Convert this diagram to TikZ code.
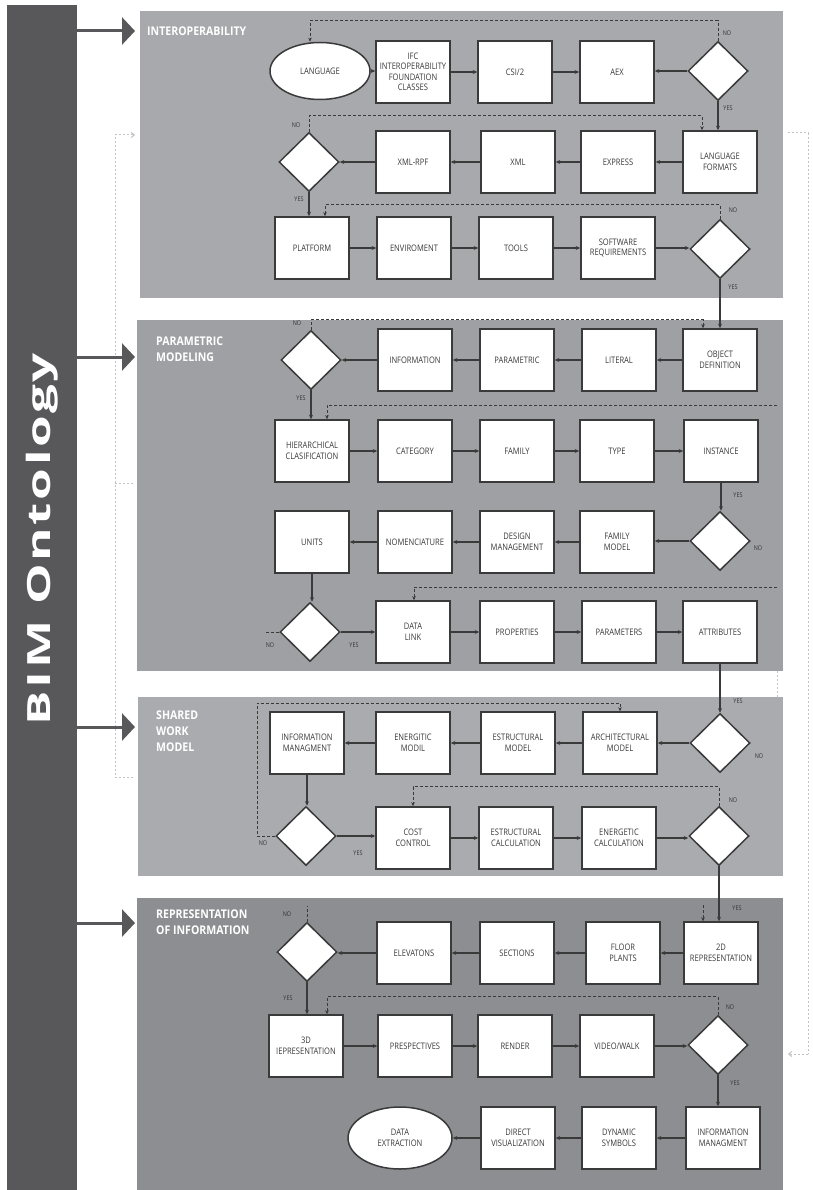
\documentclass[tikz,border=0pt]{standalone}
\usepackage{fontspec}
\setmainfont{Open Sans}
\newfontfamily\boxfont{Open Sans}[FakeStretch=0.84]
\newfontfamily\headfont{Open Sans}[FakeStretch=0.88]
\newfontfamily\barfont{Open Sans}[FakeStretch=1.6, LetterSpace=8]
\usetikzlibrary{shapes.geometric,arrows.meta,calc}

\definecolor{barcol}{HTML}{58585A}
\definecolor{panelA}{HTML}{A7A9AC}
\definecolor{panelB}{HTML}{9EA0A3}
\definecolor{panelC}{HTML}{A9ABAE}
\definecolor{panelD}{HTML}{8D8E91}
\definecolor{ink}{HTML}{3A3A3A}
\definecolor{guide}{HTML}{C2C2C2}
\definecolor{tagcol}{HTML}{333333}

\tikzset{
  stepbox/.style={draw=ink, line width=1.5pt, fill=white, rectangle,
    minimum width=74pt, minimum height=62pt, inner sep=1pt, align=center,
    font=\boxfont\fontsize{9}{10.5}\selectfont, text=ink},
  term/.style={stepbox, ellipse, minimum width=100pt, minimum height=57pt},
  choice/.style={draw=ink, line width=1.5pt, fill=white, diamond,
    minimum width=60pt, minimum height=59pt, inner sep=0pt},
  flow/.style={draw=ink, line width=1.3pt, -{Stealth[length=4.5pt,width=4pt]}},
  backline/.style={draw=ink, line width=0.9pt, dash pattern=on 3pt off 2pt},
  back/.style={backline, -{Stealth[length=4pt,width=3.5pt]}},
  tag/.style={font=\boxfont\fontsize{6.5}{7}\selectfont, text=tagcol, inner sep=0pt},
  panel/.style={fill=#1, draw=none, rectangle, anchor=north west, inner sep=0pt},
  head/.style={font=\headfont\bfseries\fontsize{12}{16}\selectfont, text=white,
    align=left, anchor=north west, inner sep=0pt},
  bigarrow/.style={draw=barcol, line width=3pt, -{Triangle[length=13pt,width=27pt]}},
  guideline/.style={draw=guide, line width=1pt, dash pattern=on 2pt off 2pt},
}

\begin{document}
\begin{tikzpicture}[x=1pt, y=-1pt]
% page
\fill[white] (0,0) rectangle (812,1190);
\useasboundingbox (0,0) rectangle (812,1190);

% side bar with the title
\node[fill=barcol, anchor=north west, minimum width=70pt, minimum height=1185pt, inner sep=0pt] (bar) at (7,5) {};
\node[rotate=90, anchor=base, inner sep=0pt, font=\barfont\bfseries\fontsize{32}{32}\selectfont, text=white] (bim) at (50,539) {BIM Ontology};

% guide lines outside the panels
\coordinate (gA) at (133,777);
\coordinate (gB) at (115,777);
\coordinate (gC) at (115,135);
\coordinate (gD) at (135,135);
\coordinate (gE) at (115,483);
\coordinate (gF) at (133,483);
\draw[guideline] (gA) -- (gB) -- (gC);
\draw[guideline, -{Straight Barb[length=3pt,width=5pt]}] (gC) -- (gD);
\draw[guideline] (gE) -- (gF);
\coordinate (gG) at (788,133);
\coordinate (gH) at (808,133);
\coordinate (gI) at (808,1054);
\coordinate (gJ) at (788,1054);
\draw[guideline] (gG) -- (gH) -- (gI);
\draw[guideline, -{Straight Barb[length=3pt,width=5pt]}] (gI) -- (gJ);

% panels
\node[panel=panelA, minimum width=643pt, minimum height=287pt] (p1) at (140,11) {};
\node[panel=panelB, minimum width=646pt, minimum height=351pt] (p2) at (137,320) {};
\node[panel=panelC, minimum width=645pt, minimum height=179pt] (p3) at (138,697) {};
\node[panel=panelD, minimum width=646pt, minimum height=292pt] (p4) at (137,898) {};

\coordinate (gK) at (777,671);
\coordinate (gL) at (777,697);
\draw[guideline] (gK) -- (gL);

% arrows from the side bar
\coordinate (tipA) at (135,31);
\coordinate (tipB) at (135,357);
\coordinate (tipC) at (135,727);
\coordinate (tipD) at (135,923);
\foreach \t in {tipA,tipB,tipC,tipD}
  \draw[bigarrow] (bar.east |- \t) -- (\t);

% panel titles
\node[head] (t1) at (147,27) {INTEROPERABILITY};
\node[head] (t2) at (156,337) {PARAMETRIC\\MODELING};
\node[head] (t3) at (156,711) {SHARED\\WORK\\MODEL};
\node[head] (t4) at (156,910) {REPRESENTATION\\OF INFORMATION};

% ---------- interoperability ----------
\node[term] (lang) at (320,71) {LANGUAGE};
\node[stepbox] (ifc) at (413,72) {IFC\\INTEROPERABILITY\\FOUNDATION\\CLASSES};
\node[stepbox] (csi) at (515,72) {CSI/2};
\node[stepbox] (aex) at (617,72) {AEX};
\node[choice] (d1) at (718,71) {};
\node[stepbox] (lf) at (720,162) {LANGUAGE\\FORMATS};
\node[stepbox] (expr) at (618,162) {EXPRESS};
\node[stepbox] (xml) at (518,162) {XML};
\node[stepbox] (xrpf) at (413,162) {XML-RPF};
\node[choice] (d2) at (309,162) {};
\node[stepbox] (plat) at (312,248) {PLATFORM};
\node[stepbox] (env) at (414,248) {ENVIROMENT};
\node[stepbox] (tools) at (516,248) {TOOLS};
\node[stepbox] (soft) at (618,248) {SOFTWARE\\REQUIREMENTS};
\node[choice] (d3) at (720,249) {};

\draw[flow] (lang.east) -- (lang.east -| ifc.west);
\draw[flow] (ifc.east) -- (ifc.east -| csi.west);
\draw[flow] (csi.east) -- (csi.east -| aex.west);
\draw[flow] (d1.west) -- (d1.west -| aex.east);
\draw[flow] (d1.south) -- (d1.south |- lf.north);
\draw[flow] (lf.west) -- (lf.west -| expr.east);
\draw[flow] (expr.west) -- (expr.west -| xml.east);
\draw[flow] (xml.west) -- (xml.west -| xrpf.east);
\draw[flow] (xrpf.west) -- (xrpf.west -| d2.east);
\draw[flow] (d2.south) -- (d2.south |- plat.north);
\draw[flow] (plat.east) -- (plat.east -| env.west);
\draw[flow] (env.east) -- (env.east -| tools.west);
\draw[flow] (tools.east) -- (tools.east -| soft.west);
\draw[flow] (soft.east) -- (soft.east -| d3.west);

\draw[back] (d1.north) -- ++(0,-20) -| ($(lang.north)+(-10,0)$);
\draw[back] (d2.north) -- ++(0,-16) -| ($(lf.north)+(-18,0)$);
\draw[back] (d3.north) -- ++(0,-14) -| ($(plat.north)+(13,0)$);

\node[tag] (n1) at (727,33) {NO};
\node[tag] (y1) at (728,108) {YES};
\node[tag] (n2) at (296,125) {NO};
\node[tag] (y2) at (299,199) {YES};
\node[tag] (n3) at (733,210) {NO};
\node[tag] (y3) at (733,287) {YES};

% ---------- parametric modeling ----------
\node[choice] (d4) at (311,360) {};
\node[stepbox] (info) at (415,360) {INFORMATION};
\node[stepbox] (param) at (517,360) {PARAMETRIC};
\node[stepbox] (lit) at (619,360) {LITERAL};
\node[stepbox] (obj) at (720,360) {OBJECT\\DEFINITION};
\node[stepbox] (hier) at (312,451) {HIERARCHICAL\\CLASIFICATION};
\node[stepbox] (cat) at (415,451) {CATEGORY};
\node[stepbox] (fam) at (517,451) {FAMILY};
\node[stepbox] (type) at (617,451) {TYPE};
\node[stepbox] (inst) at (721,451) {INSTANCE};
\node[choice] (d5) at (720,541) {};
\node[stepbox] (fm) at (617,542) {FAMILY\\MODEL};
\node[stepbox] (dm) at (517,542) {DESIGN\\MANAGEMENT};
\node[stepbox] (nom) at (415,542) {NOMENCIATURE};
\node[stepbox] (units) at (312,542) {UNITS};
\node[choice] (d6) at (310,632) {};
\node[stepbox] (dl) at (413,632) {DATA\\LINK};
\node[stepbox] (prop) at (517,632) {PROPERTIES};
\node[stepbox] (pars) at (619,632) {PARAMETERS};
\node[stepbox] (attr) at (720,632) {ATTRIBUTES};

\draw[flow] (d3.south) -- (d3.south |- obj.north);
\draw[flow] (obj.west) -- (obj.west -| lit.east);
\draw[flow] (lit.west) -- (lit.west -| param.east);
\draw[flow] (param.west) -- (param.west -| info.east);
\draw[flow] (info.west) -- (info.west -| d4.east);
\draw[flow] (d4.south) -- (d4.south |- hier.north);
\draw[flow] (hier.east) -- (hier.east -| cat.west);
\draw[flow] (cat.east) -- (cat.east -| fam.west);
\draw[flow] (fam.east) -- (fam.east -| type.west);
\draw[flow] (type.east) -- (type.east -| inst.west);
\draw[flow] (inst.south) -- (inst.south |- d5.north);
\draw[flow] (d5.west) -- (d5.west -| fm.east);
\draw[flow] (fm.west) -- (fm.west -| dm.east);
\draw[flow] (dm.west) -- (dm.west -| nom.east);
\draw[flow] (nom.west) -- (nom.west -| units.east);
\draw[flow] (units.south) -- (units.south |- d6.north);
\draw[flow] (d6.east) -- (d6.east -| dl.west);
\draw[flow] (dl.east) -- (dl.east -| prop.west);
\draw[flow] (prop.east) -- (prop.east -| pars.west);
\draw[flow] (pars.east) -- (pars.east -| attr.west);

\draw[back] (d4.north) -- ++(0,-10) -| ($(obj.north)+(-17,0)$);
\coordinate (r5) at (777,405);
\draw[back] (r5) -| ($(hier.north)+(15,0)$);
\coordinate (r6) at (777,587);
\draw[back] (r6) -| ($(dl.north)+(1,0)$);
\draw[backline] (d6.west) -- ++(-14,0);

\node[tag] (n4) at (297,323) {NO};
\node[tag] (y4) at (301,398) {YES};
\node[tag] (y5) at (738,495) {YES};
\node[tag] (n5) at (758,548) {NO};
\node[tag] (y6) at (354,645) {YES};
\node[tag] (n6) at (270,645) {NO};
\node[tag] (y7) at (738,701) {YES};

% ---------- shared work model ----------
\node[choice] (d7) at (720,743) {};
\node[stepbox] (arch) at (620,743) {ARCHITECTURAL\\MODEL};
\node[stepbox] (estr) at (518,743) {ESTRUCTURAL\\MODEL};
\node[stepbox] (ener) at (413,743) {ENERGITIC\\MODIL};
\node[stepbox] (im1) at (307,743) {INFORMATION\\MANAGMENT};
\node[choice] (d8) at (306,836) {};
\node[stepbox] (cost) at (413,838) {COST\\CONTROL};
\node[stepbox] (ecal) at (516,838) {ESTRUCTURAL\\CALCULATION};
\node[stepbox] (ncal) at (619,838) {ENERGETIC\\CALCULATION};
\node[choice] (d9) at (719,836) {};

\draw[flow] (attr.south) -- (attr.south |- d7.north);
\draw[flow] (d7.west) -- (d7.west -| arch.east);
\draw[flow] (arch.west) -- (arch.west -| estr.east);
\draw[flow] (estr.west) -- (estr.west -| ener.east);
\draw[flow] (ener.west) -- (ener.west -| im1.east);
\draw[flow] (im1.south) -- (im1.south |- d8.north);
\draw[flow] (d8.east) -- (d8.east -| cost.west);
\draw[flow] (cost.east) -- (cost.east -| ecal.west);
\draw[flow] (ecal.east) -- (ecal.east -| ncal.west);
\draw[flow] (ncal.east) -- (ncal.east -| d9.west);

\coordinate (c7) at (257,703);
\draw[back] (d8.west) -| (c7) -| (arch.north);
\draw[back] (d9.north) -- ++(0,-19) -| (cost.north);

\node[tag] (n7) at (759,756) {NO};
\node[tag] (n8) at (263,843) {NO};
\node[tag] (y8) at (358,853) {YES};
\node[tag] (n9) at (733,800) {NO};
\node[tag] (y9) at (737,908) {YES};

% ---------- representation of information ----------
\node[choice] (d10) at (307,952) {};
\node[stepbox] (elev) at (414,953) {ELEVATONS};
\node[stepbox] (sect) at (517,953) {SECTIONS};
\node[stepbox] (floor) at (623,953) {FLOOR\\PLANTS};
\node[stepbox] (rep2) at (721,953) {2D\\REPRESENTATION};
\node[stepbox] (rep3) at (306,1046) {3D\\IEPRESENTATION};
\node[stepbox] (presp) at (415,1046) {PRESPECTIVES};
\node[stepbox] (rend) at (515,1046) {RENDER};
\node[stepbox] (video) at (617,1046) {VIDEO/WALK};
\node[choice] (d11) at (718,1045) {};
\node[stepbox] (im2) at (723,1138) {INFORMATION\\MANAGMENT};
\node[stepbox] (dyn) at (619,1138) {DYNAMIC\\SYMBOLS};
\node[stepbox] (dir) at (518,1138) {DIRECT\\VISUALIZATION};
\node[term, minimum width=104pt, minimum height=62pt] (dex) at (400,1138) {DATA\\EXTRACTION};

\draw[flow] (d9.south) -- (d9.south |- rep2.north);
\draw[flow] (rep2.west) -- (rep2.west -| floor.east);
\draw[flow] (floor.west) -- (floor.west -| sect.east);
\draw[flow] (sect.west) -- (sect.west -| elev.east);
\draw[flow] (elev.west) -- (elev.west -| d10.east);
\draw[flow] (d10.south) -- (d10.south |- rep3.north);
\draw[flow] (rep3.east) -- (rep3.east -| presp.west);
\draw[flow] (presp.east) -- (presp.east -| rend.west);
\draw[flow] (rend.east) -- (rend.east -| video.west);
\draw[flow] (video.east) -- (video.east -| d11.west);
\draw[flow] (d11.south) -- (d11.south |- im2.north);
\draw[flow] (im2.west) -- (im2.west -| dyn.east);
\draw[flow] (dyn.west) -- (dyn.west -| dir.east);
\draw[flow] (dir.west) -- (dir.west -| dex.east);

\draw[backline] (d10.north) -- ++(0,-16);
\draw[back] ($(rep2.north)+(-18,-16)$) -- ($(rep2.north)+(-18,0)$);
\draw[back] (d11.north) -- ++(0,-18) -| ($(rep3.north)+(21,0)$);

\node[tag] (n10) at (287,914) {NO};
\node[tag] (y10) at (288,998) {YES};
\node[tag] (n11) at (730,1007) {NO};
\node[tag] (y11) at (735,1083) {YES};
\end{tikzpicture}
\end{document}
